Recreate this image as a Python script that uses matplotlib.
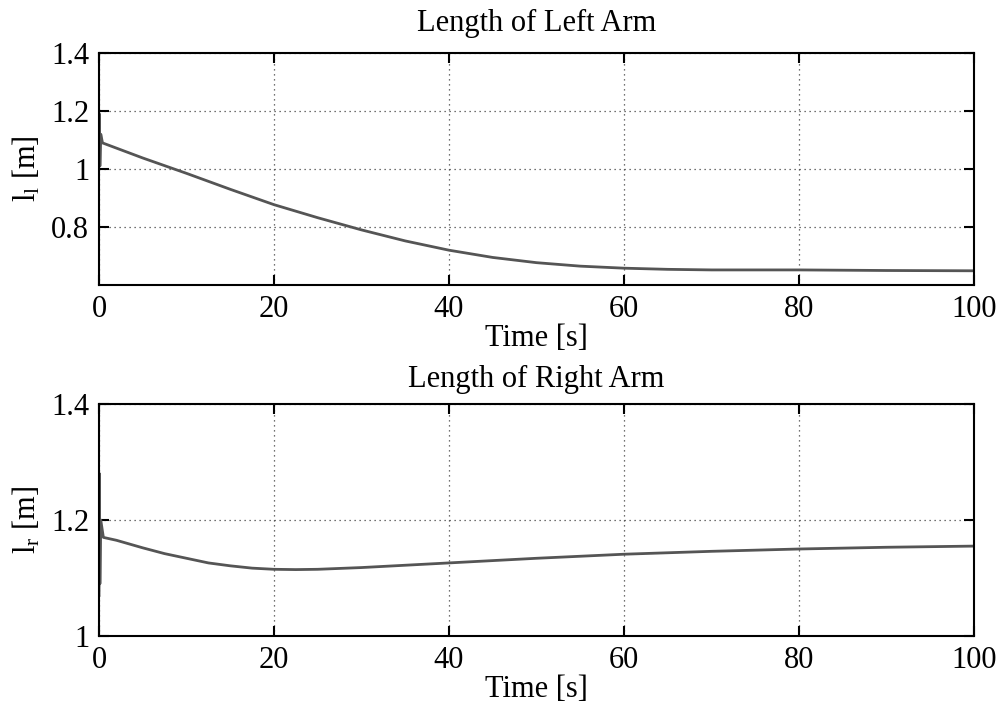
import matplotlib
matplotlib.use("Agg")
import matplotlib.pyplot as plt

plt.rcParams['font.family'] = ['Liberation Serif', 'DejaVu Serif']
plt.rcParams['mathtext.fontset'] = 'custom'
plt.rcParams['mathtext.rm'] = 'Liberation Serif'
plt.rcParams['mathtext.it'] = 'Liberation Serif'

# --- data ---
t_left = [0, 0.05, 0.1, 0.2, 0.4, 5, 10, 15, 20, 25, 30, 35, 40, 45, 50, 55, 60, 65, 70, 80, 90, 100]
l_left = [1.09, 1.19, 1.01, 1.12, 1.09, 1.038, 0.985, 0.93, 0.877, 0.832, 0.79, 0.752, 0.72, 0.695, 0.677, 0.665, 0.658, 0.654, 0.652, 0.652, 0.65, 0.649]

t_right = [0, 0.05, 0.1, 0.2, 0.5, 2, 5, 7.5, 10, 12.5, 15, 17.5, 20, 22.5, 25, 30, 40, 50, 60, 70, 80, 90, 100]
l_right = [1.07, 1.28, 1.09, 1.2, 1.17, 1.165, 1.152, 1.142, 1.134, 1.126, 1.121, 1.117, 1.115, 1.1145, 1.115, 1.118, 1.126, 1.134, 1.141, 1.146, 1.15, 1.153, 1.155]

x_ticks = [0, 20, 40, 60, 80, 100]
y_ticks_left = [0.8, 1, 1.2, 1.4]
y_ticks_right = [1, 1.2, 1.4]

fig = plt.figure(figsize=(9.99, 7.04), dpi=100)
ax1 = fig.add_axes([99 / 999, 1 - 285 / 704, 875 / 999, 232 / 704])
ax2 = fig.add_axes([99 / 999, 1 - 636 / 704, 875 / 999, 232 / 704])

panels = [
    (ax1, t_left, l_left, (0.6, 1.4), y_ticks_left, 'Length of Left Arm', r'$\mathrm{l_l}$ [m]', 16),
    (ax2, t_right, l_right, (1.0, 1.4), y_ticks_right, 'Length of Right Arm', r'$\mathrm{l_r}$ [m]', 12),
]

for ax, t, l, ylim, yt, title, ylab, tpad in panels:
    ax.plot(t, l, color='#555555', linewidth=2)
    ax.set_xlim(0, 100)
    ax.set_ylim(*ylim)
    ax.set_xticks(x_ticks)
    ax.set_yticks(yt)
    ax.set_yticklabels([f'{v:g}' for v in yt])
    ax.grid(True, linestyle=(0, (1, 3)), color='#444444', linewidth=0.9)
    ax.tick_params(direction='in', length=7, width=1.5, labelsize=22, top=True, right=True, pad=7)
    for s in ax.spines.values():
        s.set_linewidth(1.5)
    ax.set_title(title, fontsize=22, pad=tpad)
    ax.set_xlabel('Time [s]', fontsize=22, labelpad=0)
    ax.set_ylabel(ylab, fontsize=22, labelpad=6)

fig.savefig('out.png', dpi=100)
